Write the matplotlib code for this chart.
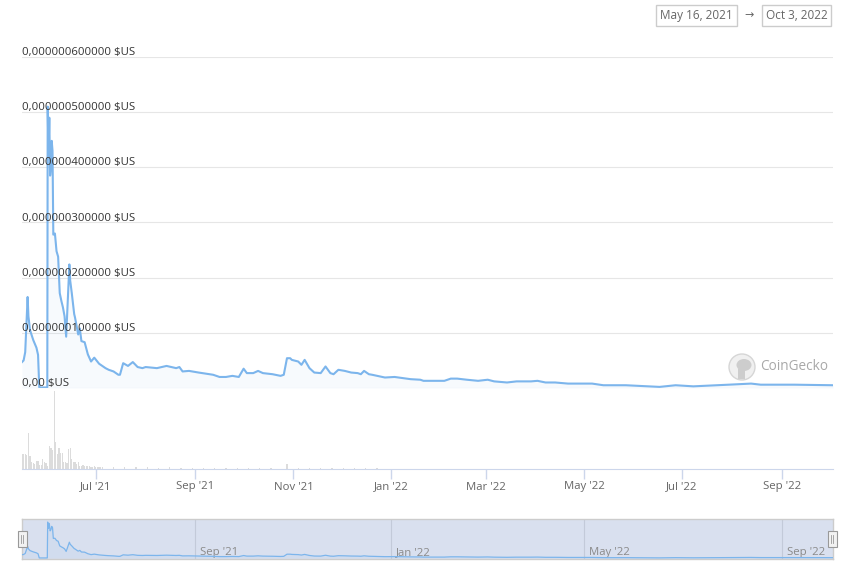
import numpy as np
import pandas as pd
import matplotlib
matplotlib.use("Agg")
import matplotlib.pyplot as plt
from matplotlib.patches import Rectangle, Ellipse

plt.rcParams["font.family"] = ["Open Sans", "DejaVu Sans"]

W, H = 854, 571

# price in units of 1e-9 USD
price_dates = [
    "2021-05-16", "2021-05-17", "2021-05-18", "2021-05-19 12:00", "2021-05-20",
    "2021-05-21", "2021-05-23", "2021-05-25", "2021-05-26", "2021-05-26 18:00",
    "2021-05-31 18:00", "2021-06-01", "2021-06-01 12:00", "2021-06-02", "2021-06-02 12:00",
    "2021-06-03", "2021-06-03 12:00", "2021-06-04", "2021-06-04 12:00", "2021-06-05 12:00",
    "2021-06-06 12:00", "2021-06-07 12:00", "2021-06-08 12:00", "2021-06-09 12:00", "2021-06-10 12:00",
    "2021-06-11 12:00", "2021-06-12 12:00", "2021-06-14 12:00", "2021-06-15", "2021-06-16",
    "2021-06-17 12:00", "2021-06-18", "2021-06-20", "2021-06-21", "2021-06-22",
    "2021-06-24", "2021-06-26", "2021-06-28", "2021-06-30", "2021-07-03",
    "2021-07-07", "2021-07-09", "2021-07-12", "2021-07-15", "2021-07-16",
    "2021-07-18", "2021-07-21", "2021-07-24", "2021-07-27", "2021-07-30",
    "2021-08-01", "2021-08-08", "2021-08-14", "2021-08-20", "2021-08-22",
    "2021-08-24", "2021-08-28", "2021-09-03", "2021-09-12", "2021-09-16",
    "2021-09-20", "2021-09-24", "2021-09-28", "2021-10-01", "2021-10-03",
    "2021-10-07", "2021-10-10", "2021-10-13", "2021-10-19", "2021-10-24",
    "2021-10-26", "2021-10-28", "2021-10-30", "2021-10-31", "2021-11-04",
    "2021-11-06", "2021-11-08", "2021-11-11", "2021-11-14", "2021-11-18",
    "2021-11-21", "2021-11-24", "2021-11-26", "2021-11-29", "2021-12-03",
    "2021-12-07", "2021-12-11", "2021-12-13", "2021-12-15", "2021-12-18",
    "2021-12-20", "2021-12-28", "2022-01-03", "2022-01-08", "2022-01-13",
    "2022-01-19", "2022-01-21", "2022-01-28", "2022-02-03", "2022-02-07",
    "2022-02-11", "2022-02-17", "2022-02-24", "2022-03-02", "2022-03-06",
    "2022-03-14", "2022-03-20", "2022-03-29", "2022-04-02", "2022-04-07",
    "2022-04-13", "2022-04-21", "2022-04-28", "2022-05-06", "2022-05-13",
    "2022-05-27", "2022-06-17", "2022-06-27", "2022-07-08", "2022-07-30",
    "2022-08-13", "2022-08-19", "2022-09-09", "2022-10-03",
]
price_vals = [
    47, 50, 65, 165, 130,
    105, 87, 73, 60, 1,
    1, 510, 420, 490, 385,
    400, 448, 430, 278, 280,
    248, 238, 172, 158, 146,
    130, 93, 224, 195, 172,
    134, 128, 97, 108, 85,
    83, 61, 48, 55, 44,
    36, 33, 30, 24, 24,
    45, 40, 47, 38, 36,
    38, 36, 40, 36, 38,
    30, 31, 28, 24, 20,
    20, 22, 20, 35, 27,
    27, 31, 27, 25, 22,
    24, 54, 54, 51, 48,
    42, 51, 36, 28, 27,
    39, 27, 25, 33, 31,
    28, 27, 25, 31, 25,
    24, 19, 20, 18, 16,
    15, 13, 13, 13, 17,
    17, 15, 13, 15, 12,
    10, 12, 12, 13, 10,
    10, 8, 8, 8, 5,
    5, 2, 5, 3, 6,
    8, 6, 6, 5,
]

# trading volume (relative units, hidden axis)
vol_dates = pd.date_range("2021-05-16", "2021-07-05").strftime("%Y-%m-%d").tolist() + [
    "2021-07-12", "2021-07-19", "2021-07-26", "2021-08-02", "2021-08-09", "2021-08-16",
    "2021-08-23", "2021-08-30", "2021-09-06", "2021-09-13", "2021-09-20", "2021-09-27",
    "2021-10-04", "2021-10-11", "2021-10-18", "2021-10-28", "2021-11-04", "2021-11-11",
    "2021-11-18", "2021-11-25", "2021-12-02", "2021-12-09", "2021-12-16", "2021-12-23",
]
vol_vals = [
    15, 15, 15, 14, 36, 13, 7, 6, 5, 8,
    8, 4, 4, 10, 7, 6, 3, 23, 21, 19,
    78, 27, 15, 21, 16, 16, 7, 7, 6, 20,
    21, 10, 7, 7, 5, 7, 3, 3, 4, 3,
    3, 3, 3, 2, 2, 3, 2, 2, 2, 2, 2,
    2, 2, 2, 2, 1.5, 2, 1.5, 1.5, 1.5, 1.5, 1.5, 1.5,
    1.5, 1.5, 1.5, 5, 1.5, 1.5, 1.5, 1, 1, 1, 1, 1,
]

y_ticks = [0, 1e-7, 2e-7, 3e-7, 4e-7, 5e-7, 6e-7]
y_labels = ["0,00 $US", "0,000000100000 $US", "0,000000200000 $US", "0,000000300000 $US",
            "0,000000400000 $US", "0,000000500000 $US", "0,000000600000 $US"]
x_ticks = ["2021-07-01", "2021-09-01", "2021-11-01", "2022-01-01",
           "2022-03-01", "2022-05-01", "2022-07-01", "2022-09-01"]
x_labels = ["Jul '21", "Sep '21", "Nov '21", "Jan '22", "Mar '22", "May '22", "Jul '22", "Sep '22"]
nav_ticks = ["2021-09-01", "2022-01-01", "2022-05-01", "2022-09-01"]
nav_labels = ["Sep '21", "Jan '22", "May '22", "Sep '22"]
range_start, range_end = "May 16, 2021", "Oct 3, 2022"

start = pd.Timestamp("2021-05-16")
end = pd.Timestamp("2022-10-03")
pd_dates = pd.to_datetime(price_dates, format="mixed")
prices = np.array(price_vals) * 1e-9
line_col = "#7cb5ec"


def box(x0, y0, x1, y1):
    return [x0 / W, 1 - y1 / H, (x1 - x0) / W, (y1 - y0) / H]


fig = plt.figure(figsize=(W / 100, H / 100), dpi=100)

# price panel
ax = fig.add_axes(box(22, 57, 833, 388))
ax.set_xlim(start, end)
ax.set_ylim(0, 6e-7)
for v, lab in zip(y_ticks, y_labels):
    ax.axhline(v, color="#e6e6e6", lw=0.8, zorder=0)
    ax.annotate(lab, xy=(0, v), xycoords=("axes fraction", "data"), xytext=(0, 2),
                textcoords="offset pixels", ha="left", va="baseline",
                fontsize=8.2, color="#333333", zorder=5)
ax.fill_between(pd_dates, prices, color=line_col, alpha=0.06, lw=0)
ax.plot(pd_dates, prices, color=line_col, lw=1.5, solid_joinstyle="round", zorder=3)
ax.axis("off")

# volume panel
axv = fig.add_axes(box(22, 389, 833, 469))
axv.bar(pd.to_datetime(vol_dates), vol_vals, width=0.75, color="#dcdcdc", align="center")
axv.set_xlim(start, end)
axv.set_ylim(0, 80)
for s in ["top", "left", "right"]:
    axv.spines[s].set_visible(False)
axv.spines["bottom"].set_color("#ccd6eb")
axv.set_yticks([])
axv.set_xticks(pd.to_datetime(x_ticks))
axv.set_xticklabels(x_labels)
axv.tick_params(axis="x", length=7, width=1, color="#ccd6eb", labelcolor="#666666",
                labelsize=8.2, pad=2)
axv.patch.set_alpha(0)

# navigator
axn = fig.add_axes(box(22, 519, 833, 559))
axn.set_facecolor("#d9e0ef")
axn.set_xlim(start, end)
axn.set_ylim(-14e-9, 553e-9)
for d, lab in zip(nav_ticks, nav_labels):
    dt = pd.Timestamp(d)
    axn.axvline(dt, color="#c3cad9", lw=0.8, zorder=1)
    axn.annotate(lab, xy=(dt, 0), xycoords=("data", "axes fraction"), xytext=(5, 4),
                 textcoords="offset pixels", ha="left", va="baseline",
                 fontsize=8.2, color="#8a8a8a")
axn.fill_between(pd_dates, prices, color=line_col, alpha=0.08, lw=0)
axn.plot(pd_dates, prices, color=line_col, lw=0.9, zorder=3)
axn.set_xticks([])
axn.set_yticks([])
for s in axn.spines.values():
    s.set_color("#cccccc")
    s.set_linewidth(1)

# navigator handles
for hx in [18, 828]:
    fig.add_artist(Rectangle((hx / W, 1 - 547 / H), 9 / W, 16 / H, transform=fig.transFigure,
                             facecolor="#f2f2f2", edgecolor="#999999", lw=0.8, zorder=10))
    for lx in [hx + 3.5, hx + 5.5]:
        fig.add_artist(plt.Line2D([lx / W, lx / W], [1 - 543 / H, 1 - 535 / H],
                                  transform=fig.transFigure, color="#999999", lw=0.6, zorder=11))

# date range boxes
for (x0, x1), lab in zip([(656, 737), (762, 831)], [range_start, range_end]):
    fig.add_artist(Rectangle((x0 / W, 1 - 26 / H), (x1 - x0) / W, 21 / H, transform=fig.transFigure,
                             facecolor="white", edgecolor="#cccccc", lw=1))
    fig.text((x0 + x1) / 2 / W, 1 - 15.5 / H, lab, ha="center", va="center",
             fontsize=8.5, color="#666666")
fig.text(749 / W, 1 - 15.5 / H, "→", ha="center", va="center", fontsize=8, color="#666666")

# CoinGecko watermark
fig.add_artist(Ellipse((742 / W, 1 - 367 / H), 26 / W, 26 / H, transform=fig.transFigure,
                       facecolor="#f0f0f0", edgecolor="#d6d6d6", lw=1))
fig.add_artist(Ellipse((744 / W, 1 - 365 / H), 15 / W, 12 / H, transform=fig.transFigure,
                       facecolor="#cdcdcd", edgecolor="none"))
fig.add_artist(Rectangle((738 / W, 1 - 379 / H), 7 / W, 10 / H, transform=fig.transFigure,
                         facecolor="#cdcdcd", edgecolor="none"))
fig.text(760 / W, 1 - 367 / H, "CoinGecko", ha="left", va="center", fontsize=9.8,
         color="#a8a8a8")

fig.savefig("out.png", dpi=100)
